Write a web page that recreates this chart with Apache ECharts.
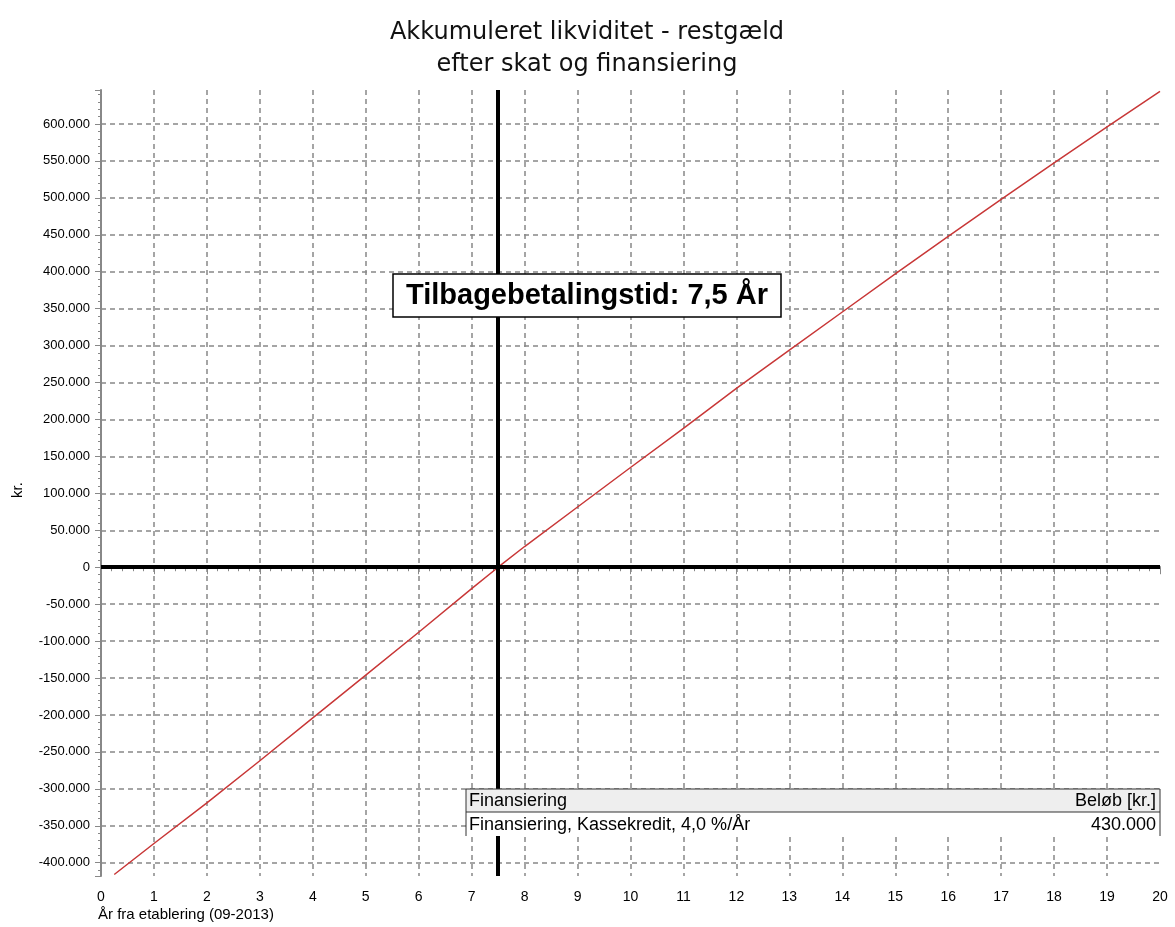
<!DOCTYPE html>
<html>
<head>
<meta charset="utf-8">
<script src="https://cdn.jsdelivr.net/npm/echarts@6/dist/echarts.min.js"></script>
<style>
  html, body { margin: 0; padding: 0; background: #fff; }
  #chart { width: 1175px; height: 927px; }
</style>
</head>
<body>
<div id="chart"></div>
<script>
// years after start and accumulated liquidity minus remaining debt (kr.)
var years = [0.25, 1, 2, 3, 4, 5, 6, 7, 7.5, 8, 9, 10, 11, 12, 13, 14, 15, 16, 17, 18, 19, 20];
var liquidity = [-416000, -374000, -319000, -262000, -204000, -146000, -88000, -29000, 0, 28000,
  81500, 135000, 188000, 242000, 294000, 345500, 397000, 448000, 498000, 547500, 596000, 644000];
var paybackYear = 7.5;
var tableHeader = ['Finansiering', 'Beløb [kr.]'];
var tableRow = ['Finansiering, Kassekredit, 4,0 %/År', '430.000'];

var points = years.map(function (x, i) { return [x, liquidity[i]]; });

function dk(v) {
  var s = Math.abs(v).toString().replace(/\B(?=(\d{3})+(?!\d))/g, '.');
  return (v < 0 ? '-' : '') + s;
}

var chart = echarts.init(document.getElementById('chart'));
var gridColor = '#888';
var font = 'Liberation Sans, Arial, sans-serif';

var option = {
  animation: false,
  backgroundColor: '#fff',
  title: {
    text: 'Akkumuleret likviditet - restgæld\nefter skat og finansiering',
    left: 582,
    textAlign: 'center',
    top: 12,
    textStyle: { fontFamily: 'DejaVu Sans', fontSize: 24, fontWeight: 'normal', color: '#111', lineHeight: 32 }
  },
  grid: { left: 101, right: 15, top: 90, bottom: 51 },
  xAxis: {
    type: 'value',
    min: 0,
    max: 20,
    interval: 1,
    axisLine: { lineStyle: { color: gridColor, width: 2 } },
    axisTick: { length: 7, lineStyle: { color: gridColor } },
    minorTick: { show: true, splitNumber: 5, length: 4, lineStyle: { color: gridColor } },
    axisLabel: { margin: 14, color: '#000', fontFamily: font, fontSize: 14 },
    splitLine: { show: true, showMinLine: false, showMaxLine: false,
      lineStyle: { color: gridColor, width: 1.5, type: [5, 4] } }
  },
  yAxis: {
    type: 'value',
    min: -418000,
    max: 646000,
    splitNumber: 21,
    axisLine: { show: true, lineStyle: { color: gridColor, width: 2 } },
    axisTick: { show: true, length: 6, lineStyle: { color: gridColor } },
    minorTick: { show: true, splitNumber: 5, length: 3, lineStyle: { color: gridColor } },
    axisLabel: {
      margin: 11, color: '#000', fontFamily: font, fontSize: 13,
      showMinLabel: false, showMaxLabel: false,
      formatter: function (v) { return v % 50000 === 0 ? dk(v) : ''; }
    },
    splitLine: { show: true, showMinLine: false, showMaxLine: false,
      lineStyle: { color: gridColor, width: 1.5, type: [5, 4] } }
  },
  series: [{
    type: 'line',
    data: points,
    showSymbol: false,
    lineStyle: { color: '#c83737', width: 1.5 },
    markLine: {
      silent: true,
      symbol: ['none', 'none'],
      label: { show: false },
      lineStyle: { color: '#000', width: 4, type: 'solid' },
      data: [{ yAxis: 0 }, { xAxis: paybackYear }]
    }
  }],
  graphic: [
    { type: 'text', left: 98, top: 907, z: 100,
      style: { text: 'År fra etablering (09-2013)', fontFamily: font, fontSize: 15, fill: '#000' } },
    { type: 'text', x: 18, y: 490, rotation: Math.PI / 2, z: 100,
      style: { text: 'kr.', fontFamily: font, fontSize: 15, fill: '#000', align: 'center', verticalAlign: 'middle' } },
    { type: 'rect', z: 100, shape: { x: 393, y: 274, width: 388, height: 43 },
      style: { fill: '#fff', stroke: '#000', lineWidth: 1.5 } },
    { type: 'text', z: 101, x: 587, y: 296,
      style: { text: 'Tilbagebetalingstid: ' + String(paybackYear).replace('.', ',') + ' År',
        fontFamily: font, fontSize: 29, fontWeight: 'bold', fill: '#000', align: 'center', verticalAlign: 'middle' } },
    { type: 'rect', z: 100, shape: { x: 466, y: 789, width: 694, height: 47 },
      style: { fill: '#fff', stroke: null } },
    { type: 'rect', z: 101, shape: { x: 466, y: 789, width: 694, height: 23 },
      style: { fill: '#eeeeee', stroke: '#333', lineWidth: 1 } },
    { type: 'line', z: 101, shape: { x1: 466, y1: 812, x2: 466, y2: 836 }, style: { stroke: '#333', lineWidth: 1 } },
    { type: 'line', z: 101, shape: { x1: 1160, y1: 812, x2: 1160, y2: 836 }, style: { stroke: '#333', lineWidth: 1 } },
    { type: 'text', z: 102, x: 469, y: 801,
      style: { text: tableHeader[0], fontFamily: font, fontSize: 18, fill: '#000', verticalAlign: 'middle' } },
    { type: 'text', z: 102, x: 1156, y: 801,
      style: { text: tableHeader[1], fontFamily: font, fontSize: 18, fill: '#000', align: 'right', verticalAlign: 'middle' } },
    { type: 'text', z: 102, x: 469, y: 825,
      style: { text: tableRow[0], fontFamily: font, fontSize: 18, fill: '#000', verticalAlign: 'middle' } },
    { type: 'text', z: 102, x: 1156, y: 825,
      style: { text: tableRow[1], fontFamily: font, fontSize: 18, fill: '#000', align: 'right', verticalAlign: 'middle' } }
  ]
};

chart.setOption(option);
</script>
</body>
</html>
